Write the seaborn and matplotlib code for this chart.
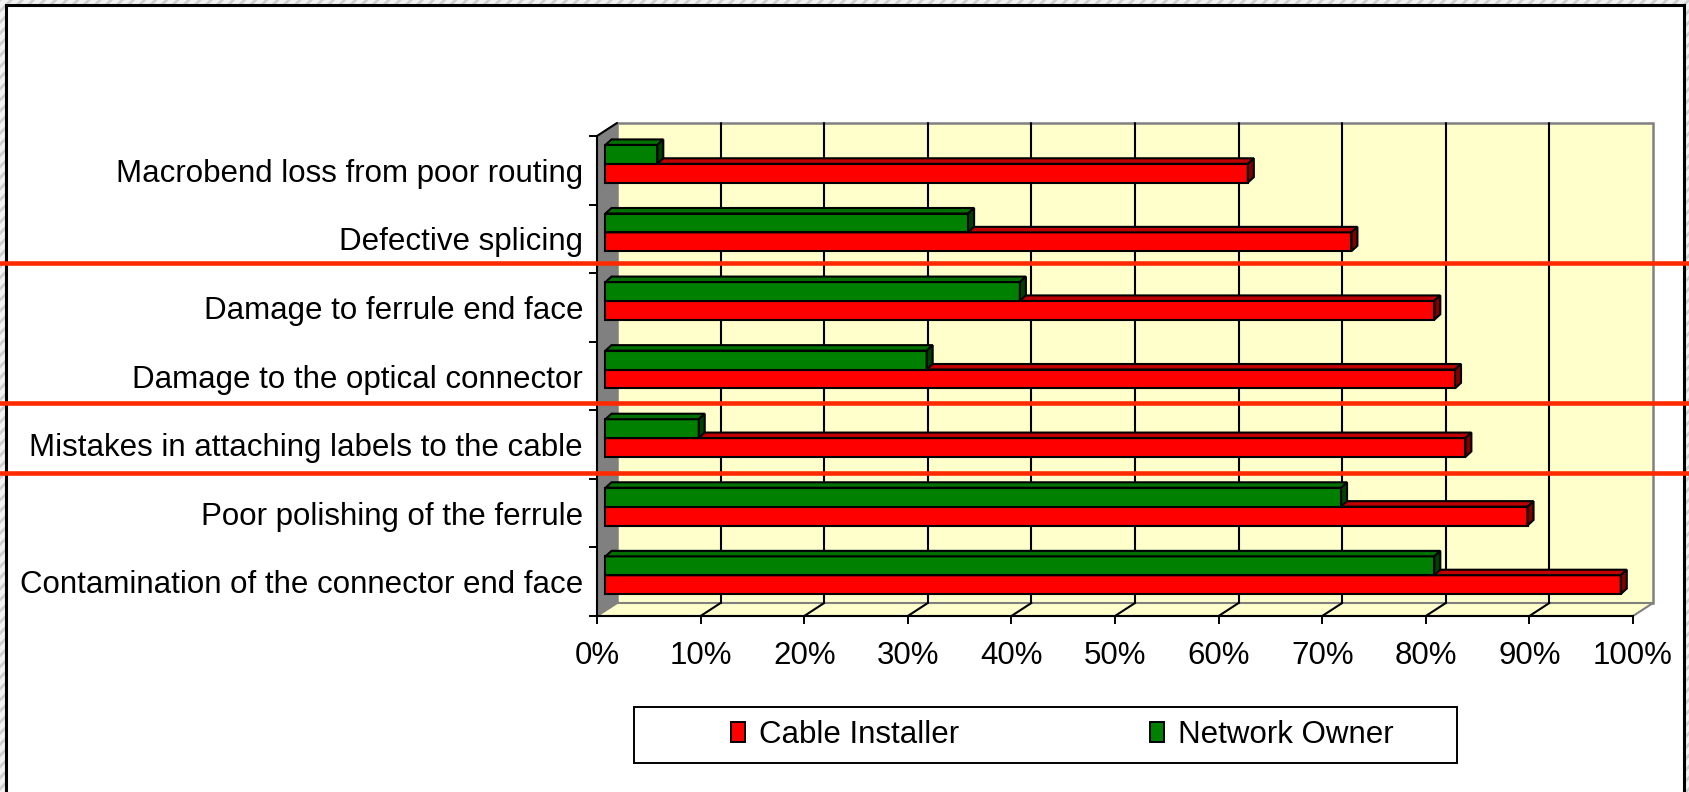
import numpy as np
import pandas as pd
import matplotlib
matplotlib.use("Agg")
import matplotlib.pyplot as plt
import seaborn as sns
from matplotlib.patches import Polygon, Rectangle, Patch
from matplotlib.lines import Line2D
from matplotlib.transforms import IdentityTransform, ScaledTranslation, blended_transform_factory

# ---- data -------------------------------------------------------------
categories = [
    "Macrobend loss from poor routing",
    "Defective splicing",
    "Damage to ferrule end face",
    "Damage to the optical connector",
    "Mistakes in attaching labels to the cable",
    "Poor polishing of the ferrule",
    "Contamination of the connector end face",
]
cable_installer = [62, 72, 80, 82, 83, 89, 98]
network_owner = [5, 35, 40, 31, 9, 71, 80]
series_names = ["Cable Installer", "Network Owner"]
x_ticks = list(range(0, 101, 10))
x_tick_labels = [f"{t}%" for t in x_ticks]

df = pd.DataFrame({
    "category": categories * 2,
    "share": cable_installer + network_owner,
    "group": [series_names[0]] * len(categories) + [series_names[1]] * len(categories),
})

# ---- style ------------------------------------------------------------
sns.set_theme(style="white")
plt.rcParams["font.family"] = ["Liberation Sans", "DejaVu Sans"]
plt.rcParams["text.color"] = "black"
plt.rcParams["hatch.linewidth"] = 2.0

FS = 22.5
W, H, DPI = 1690, 792, 100
front = {"Cable Installer": "#FF0000", "Network Owner": "#008000"}
top_face = {"Cable Installer": "#C00000", "Network Owner": "#007000"}
side_face = {"Cable Installer": "#800000", "Network Owner": "#004000"}
WALL = "#FFFFCC"
EDGE = "#808080"

fig = plt.figure(figsize=(W / DPI, H / DPI), dpi=DPI)
fig.patch.set_facecolor("white")


def fx(px):
    return px / W


def fy(py):
    return 1 - py / H


# hatched margin and chart-area frame
fig.add_artist(Rectangle((0, 0), 1, 1, transform=fig.transFigure, facecolor="#f2f2f2",
                         edgecolor="#cfcfcf", hatch="///", linewidth=0, zorder=-10))
fig.add_artist(Rectangle((fx(6), -0.05), fx(1684) - fx(6), fy(5) + 0.05, transform=fig.transFigure,
                         facecolor="white", edgecolor="black", linewidth=2.2, zorder=-9))

# front plane of the plot area
ax = fig.add_axes([fx(597), fy(616), fx(1633) - fx(597), (616 - 136) / H])
ax.set_facecolor("none")

hue_order = ["Network Owner", "Cable Installer"]
sns.barplot(data=df, x="share", y="category", hue="group", hue_order=hue_order, order=categories,
            palette=front, orient="h", width=0.55, gap=0, saturation=1,
            edgecolor="black", linewidth=1.5, legend=False, ax=ax)

ax.set_xlim(0, 100)
ax.set_ylim(len(categories) - 0.5, -0.5)
ax.set_xlabel("")
ax.set_ylabel("")

# 3-D depth of the plot box (pixels)
DX, DY = 20.0, 13.0
y_top, y_bot = -0.5, len(categories) - 0.5


def P(x, y, depth=0.0):
    px, py = ax.transData.transform((x, y))
    return (px + depth * DX, py + depth * DY)


def poly(points, fc, ec, lw, z):
    p = Polygon(points, closed=True, facecolor=fc, edgecolor=ec, linewidth=lw,
                transform=IdentityTransform(), clip_on=False, zorder=z)
    ax.add_patch(p)


def seg(a, b, color, lw, z):
    ax.add_line(Line2D([a[0], b[0]], [a[1], b[1]], color=color, linewidth=lw,
                       transform=IdentityTransform(), clip_on=False, zorder=z))


# back wall
poly([P(0, y_bot, 1), P(100, y_bot, 1), P(100, y_top, 1), P(0, y_top, 1)], WALL, EDGE, 1.8, 0.2)
# floor
poly([P(0, y_bot), P(100, y_bot), P(100, y_bot, 1), P(0, y_bot, 1)], WALL, EDGE, 1.5, 0.25)
# gridlines on wall and floor
for t in x_ticks[1:-1]:
    seg(P(t, y_bot, 1), P(t, y_top, 1), "black", 1.5, 0.3)
    seg(P(t, y_bot), P(t, y_bot, 1), "black", 1.5, 0.3)
# left side wall
poly([P(0, y_top), P(0, y_bot), P(0, y_bot, 1), P(0, y_top, 1)], EDGE, EDGE, 1.0, 0.4)
seg(P(0, y_top), P(0, y_top, 1), "black", 1.5, 0.45)

# bars: shift into the middle of the box and add top / side faces
bar_shift = ScaledTranslation(8.5 / DPI, 6.5 / DPI, fig.dpi_scale_trans)
bdx, bdy = 6.0, 5.5
for container, name in zip(ax.containers, hue_order):
    z = 3 if name == "Network Owner" else 2
    for bar in container:
        bar.set_transform(ax.transData + bar_shift)
        bar.set_clip_on(False)
        bar.set_zorder(z)
        x0, y0, w, h = bar.get_x(), bar.get_y(), bar.get_width(), bar.get_height()
        (xa, ya), (xb, yb) = (ax.transData + bar_shift).transform([(x0, y0), (x0 + w, y0 + h)])
        xl, xr = min(xa, xb), max(xa, xb)
        yl, yh = min(ya, yb), max(ya, yb)
        poly([(xl, yh), (xr, yh), (xr + bdx, yh + bdy), (xl + bdx, yh + bdy)],
             top_face[name], "black", 1.5, z + 0.1)
        poly([(xr, yl), (xr, yh), (xr + bdx, yh + bdy), (xr + bdx, yl + bdy)],
             side_face[name], "black", 1.5, z + 0.1)

ax.set_xlim(0, 100)
ax.set_ylim(len(categories) - 0.5, -0.5)

# axes, ticks and labels
for s in ("top", "right"):
    ax.spines[s].set_visible(False)
for s in ("left", "bottom"):
    ax.spines[s].set_color("black")
    ax.spines[s].set_linewidth(1.5)
    ax.spines[s].set_zorder(5)

ax.set_xticks(x_ticks)
ax.set_xticklabels(x_tick_labels)
ax.tick_params(axis="x", bottom=True, direction="out", length=6, width=1.4, color="black",
               labelsize=FS, labelcolor="black", pad=12)
ax.set_yticks(range(len(categories)))
ax.set_yticklabels(categories)
ax.tick_params(axis="y", which="major", left=True, length=0, pad=10, labelsize=FS, labelcolor="black")
ax.set_yticks(np.arange(-0.5, len(categories), 1.0), minor=True)
ax.tick_params(axis="y", which="minor", left=True, direction="out", length=6, width=1.4, color="black")

# legend
fig.add_artist(Rectangle((fx(634), fy(763)), fx(1457) - fx(634), fy(707) - fy(763),
                         transform=fig.transFigure, facecolor="white", edgecolor="black",
                         linewidth=1.4, zorder=1))
handles = [Patch(facecolor=front[n], edgecolor="black", linewidth=1.4, label=n) for n in series_names]
leg = fig.legend(handles=handles, loc="center", bbox_to_anchor=(fx(1062), fy(735)), ncol=2,
                 frameon=False, fontsize=FS, handlelength=0.45, handleheight=0.6,
                 handletextpad=0.45, columnspacing=6.1, labelcolor="black")
leg.set_zorder(2)

# highlight rules across the chart
hl = blended_transform_factory(fig.transFigure, ax.transData)
for yv in (1.348, 3.398, 4.41):
    fig.add_artist(Line2D([0, 1], [yv, yv], transform=hl, color="#FF2A00", linewidth=3.3, zorder=10))

fig.savefig("out.png", dpi=DPI)
